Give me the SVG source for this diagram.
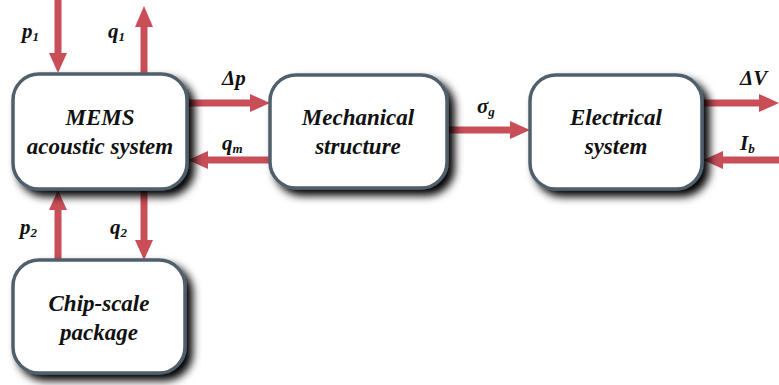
<svg xmlns="http://www.w3.org/2000/svg" width="779" height="385" viewBox="0 0 779 385">
<defs>
<filter id="sh" x="-20%" y="-20%" width="150%" height="150%">
<feGaussianBlur in="SourceAlpha" stdDeviation="4"/>
<feOffset dx="6" dy="6"/>
<feMerge><feMergeNode/><feMergeNode in="SourceGraphic"/></feMerge>
</filter>
</defs>
<style>
.box{fill:#fff;stroke:#4f5e6c;stroke-width:3.5;filter:url(#sh)}
.ln{fill:#c84e58}
.t{font-family:"Liberation Serif","Times New Roman",serif;font-weight:bold;font-style:italic;font-size:23px;text-anchor:middle;fill:#111}
.l{font-family:"Liberation Serif","Times New Roman",serif;font-weight:bold;font-style:italic;font-size:21px;fill:#111}
.s{font-size:13px}
</style>
<rect width="779" height="385" fill="#fff"/>
<g id="connectors">
<rect class="ln" x="54.5" y="0" width="7" height="55"/><polygon class="ln" points="49,53 67,53 58,73"/>
<rect class="ln" x="140.5" y="25" width="7" height="49"/><polygon class="ln" points="135,27 153,27 144,6"/>
<rect class="ln" x="187" y="99.5" width="65" height="7"/><polygon class="ln" points="250,94 250,112 270,103"/>
<rect class="ln" x="206" y="156.5" width="64" height="7"/><polygon class="ln" points="208,151 208,169 188,160"/>
<rect class="ln" x="447" y="126.5" width="65" height="7"/><polygon class="ln" points="510,121 510,139 530,130"/>
<rect class="ln" x="702" y="99.5" width="59" height="7"/><polygon class="ln" points="759,94 759,112 779,103"/>
<rect class="ln" x="721" y="156.5" width="58" height="7"/><polygon class="ln" points="723,151 723,169 703,160"/>
<rect class="ln" x="54.5" y="208" width="7" height="52"/><polygon class="ln" points="49,210 67,210 58,190"/>
<rect class="ln" x="140.5" y="190" width="7" height="52"/><polygon class="ln" points="135,240 153,240 144,260"/>
<text class="l" x="22" y="38">p<tspan class="s" dy="3">1</tspan></text>
<text class="l" x="108" y="38">q<tspan class="s" dy="3">1</tspan></text>
<text class="l" x="222" y="85">Δp</text>
<text class="l" x="222" y="150">q<tspan class="s" dy="3">m</tspan></text>
<text class="l" x="477" y="113">σ<tspan class="s" dy="3">g</tspan></text>
<text class="l" x="740" y="85">ΔV</text>
<text class="l" x="740" y="150">I<tspan class="s" dy="3">b</tspan></text>
<text class="l" x="20" y="234">p<tspan class="s" dy="3">2</tspan></text>
<text class="l" x="110" y="234">q<tspan class="s" dy="3">2</tspan></text>
</g>
<g id="mems">
<rect class="box" x="13" y="74" width="174" height="115" rx="26"/>
<text class="t" x="100" y="125">MEMS</text>
<text class="t" x="100" y="154">acoustic system</text>
</g>
<g id="mechanical">
<rect class="box" x="270" y="75" width="177" height="113" rx="26"/>
<text class="t" x="358" y="125">Mechanical</text>
<text class="t" x="358" y="154">structure</text>
</g>
<g id="electrical">
<rect class="box" x="530" y="75" width="172" height="114" rx="26"/>
<text class="t" x="616" y="125">Electrical</text>
<text class="t" x="616" y="154">system</text>
</g>
<g id="chip">
<rect class="box" x="13" y="260" width="172" height="113" rx="26"/>
<text class="t" x="99" y="311">Chip-scale</text>
<text class="t" x="99" y="340">package</text>
</g>
</svg>
